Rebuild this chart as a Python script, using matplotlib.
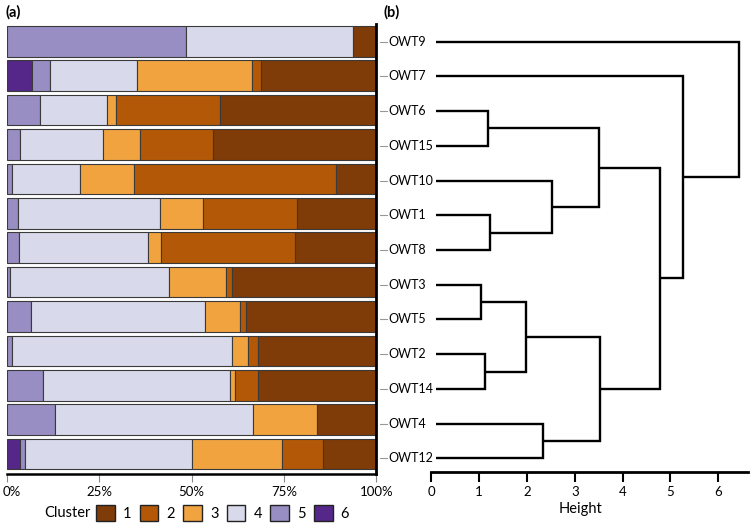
import matplotlib
matplotlib.use("Agg")
import matplotlib.pyplot as plt
import matplotlib.transforms as mtransforms
from matplotlib.patches import Patch
import numpy as np

plt.rcParams['font.family'] = ['Lato', 'DejaVu Sans']

# ---------------- data ----------------
owt_labels = ["OWT9", "OWT7", "OWT6", "OWT15", "OWT10", "OWT1", "OWT8",
              "OWT3", "OWT5", "OWT2", "OWT14", "OWT4", "OWT12"]
cluster_names = ["1", "2", "3", "4", "5", "6"]

c1 = [6.2, 31.2, 42.2, 44.1, 11.0, 21.4, 22.0, 39.0, 35.2, 32.0, 32.0, 16.0, 14.3]
c2 = [0.0, 2.4, 28.2, 19.9, 54.5, 25.5, 36.3, 1.6, 1.7, 2.7, 6.2, 0.0, 11.1]
c3 = [0.0, 31.1, 2.6, 9.9, 14.6, 11.6, 3.4, 15.6, 9.4, 4.5, 1.3, 17.3, 24.4]
c4 = [45.2, 23.6, 18.0, 22.5, 18.6, 38.6, 35.0, 43.0, 47.3, 59.4, 50.7, 53.7, 45.3]
c5 = [48.6, 5.0, 9.0, 3.6, 1.3, 2.9, 3.3, 0.8, 6.4, 1.4, 9.8, 13.0, 1.5]
c6 = [0.0, 6.7, 0.0, 0.0, 0.0, 0.0, 0.0, 0.0, 0.0, 0.0, 0.0, 0.0, 3.4]

pct_ticks = [0, 25, 50, 75, 100]
pct_labels = ["0%", "25%", "50%", "75%", "100%"]

# dendrogram linkage (leaves 0..12 in display order, new nodes numbered 13..)
link_left = [2, 5, 7, 9, 4, 15, 11, 13, 18, 20, 1, 0]
link_right = [3, 6, 8, 10, 14, 16, 12, 17, 19, 21, 22, 23]
link_height = [1.19, 1.23, 1.04, 1.12, 2.52, 1.99, 2.33, 3.51, 3.52, 4.79, 5.26, 6.44]
height_ticks = [0, 1, 2, 3, 4, 5, 6]

colors = {"1": "#7f3b08", "2": "#b35806", "3": "#f1a340",
          "4": "#d8daeb", "5": "#998ec3", "6": "#542788"}

# ---------------- figure ----------------
W, H = 750, 528
fig = plt.figure(figsize=(W / 100, H / 100), dpi=100)

# panel (a)
ax1 = fig.add_axes([7 / W, (H - 474) / H, 369.3 / W, 450 / H])
y = np.arange(len(owt_labels))
left = np.zeros(len(owt_labels))
series = {"1": c1, "2": c2, "3": c3, "4": c4, "5": c5, "6": c6}
for name in ["6", "5", "4", "3", "2", "1"]:
    vals = np.array(series[name], dtype=float)
    m = vals > 0
    ax1.barh(y[m], vals[m], left=left[m], height=0.89, color=colors[name],
             edgecolor="#3a3a3a", linewidth=0.8)
    left += vals
ax1.set_xlim(0, 100)
ax1.set_ylim(12.58, -0.5)
ax1.set_yticks([])
ax1.set_xticks(pct_ticks)
ax1.set_xticklabels(pct_labels)
ax1.tick_params(axis="x", length=6, width=0.8, color="#888888", labelsize=9.5, pad=3)
first = ax1.get_xticklabels()[0]
first.set_horizontalalignment("left")
first.set_transform(first.get_transform() +
                    mtransforms.ScaledTranslation(-4 / 100, 0, fig.dpi_scale_trans))
for s in ["left", "top"]:
    ax1.spines[s].set_visible(False)
ax1.spines["right"].set_linewidth(2.0)
ax1.spines["right"].set_color("black")
ax1.spines["bottom"].set_linewidth(1.8)
ax1.spines["bottom"].set_color("black")

# panel (b)
ax2 = fig.add_axes([378 / W, (H - 471.7) / H, 370 / W, 447.7 / H])
LEAF_X = 0.1
n = len(owt_labels)
node_x = [LEAF_X] * n
node_y = list(range(n))
for a, b, h in zip(link_left, link_right, link_height):
    xa, ya, xb, yb = node_x[a], node_y[a], node_x[b], node_y[b]
    ax2.plot([xa, h, h, xb], [ya, ya, yb, yb], color="black", lw=1.7,
             solid_joinstyle="miter", solid_capstyle="butt")
    node_x.append(h)
    node_y.append((ya + yb) / 2)
for i, name in enumerate(owt_labels):
    ax2.plot([-1.07, -0.93], [i, i], color="#999999", lw=0.8)
    ax2.text(-0.9, i, name, va="center", ha="left", fontsize=9)
ax2.set_xlim(-1.114, 6.621)
ax2.set_ylim(12.386, -0.51)
ax2.set_yticks([])
ax2.set_xticks(height_ticks)
ax2.tick_params(axis="x", length=7, width=1.5, color="black", labelsize=9.5, pad=3)
for s in ["left", "top", "right"]:
    ax2.spines[s].set_visible(False)
ax2.spines["bottom"].set_bounds(0, 6.621)
ax2.spines["bottom"].set_linewidth(2.0)
ax2.set_xlabel("Height", fontsize=10.5)
ax2.xaxis.set_label_coords((581 - 378) / 370, -0.068)

# panel labels
fig.text(5 / W, 1 - 12 / H, "(a)", fontweight="bold", fontsize=10.5, va="center", ha="left")
fig.text(383 / W, 1 - 12 / H, "(b)", fontweight="bold", fontsize=10.5, va="center", ha="left")

# legend
fig.text(44 / W, 1 - 513 / H, "Cluster", va="center", ha="left", fontsize=10.5)
handles = [Patch(facecolor=colors[c], edgecolor="#222222", linewidth=1.0) for c in cluster_names]
fig.legend(handles, cluster_names, ncol=6, loc="center left",
           bbox_to_anchor=(96 / W, 1 - 513 / H), frameon=False, fontsize=10.5,
           handlelength=1.3, handleheight=1.25, handletextpad=0.55,
           columnspacing=0.55, borderpad=0, borderaxespad=0)

fig.savefig("out.png", dpi=100)
